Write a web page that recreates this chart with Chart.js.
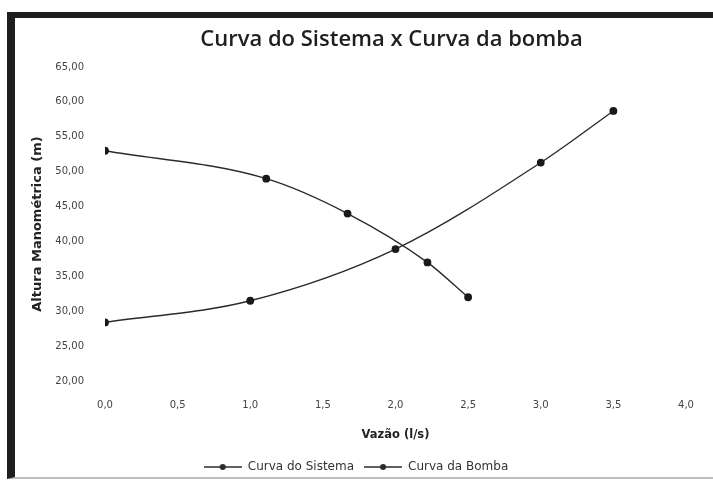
<!DOCTYPE html>
<html>
<head>
<meta charset="utf-8">
<script src="https://cdn.jsdelivr.net/npm/chart.js@4/dist/chart.umd.min.js"></script>
<style>
  html, body { margin: 0; padding: 0; background: #fff; }
  #wrap { position: relative; width: 713px; height: 483px; overflow: hidden; background: #fff; }
  #frame { position: absolute; left: 7px; top: 12px; width: 715px; height: 467px;
           border-left: 8px solid #1e1e1e; border-top: 6px solid #1e1e1e; border-bottom: 2px solid #bdbdbd; box-sizing: border-box; }
  canvas { position: absolute; left: 0; top: 0; }
</style>
</head>
<body>
<div id="wrap">
  <div id="frame"></div>
  <canvas id="c" width="713" height="483"></canvas>
</div>
<script>
const chartTitle = 'Curva do Sistema x Curva da bomba';
const xTitle = 'Vazão (l/s)';
const yTitle = 'Altura Manométrica (m)';
const seriesNames = ['Curva do Sistema', 'Curva da Bomba'];

const sistemaX = [0, 1.11, 1.67, 2.22, 2.5];
const sistemaY = [53.0, 49.0, 44.0, 37.0, 32.0];
const bombaX = [0, 1.0, 2.0, 3.0, 3.5];
const bombaY = [28.4, 31.5, 38.9, 51.3, 58.7];

const xTickLabels = ['0,0', '0,5', '1,0', '1,5', '2,0', '2,5', '3,0', '3,5', '4,0'];
const yTickLabels = ['20,00', '25,00', '30,00', '35,00', '40,00', '45,00', '50,00', '55,00', '60,00', '65,00'];

const lineColor = '#2b2b2b';

function toPoints(xs, ys) { return xs.map((x, i) => ({ x: x, y: ys[i] })); }

// legend marker: line with a dot
const legendIcon = document.createElement('canvas');
legendIcon.width = 38; legendIcon.height = 10;
(function () {
  const g = legendIcon.getContext('2d');
  g.strokeStyle = lineColor; g.lineWidth = 1.5;
  g.beginPath(); g.moveTo(0, 5); g.lineTo(38, 5); g.stroke();
  g.fillStyle = lineColor;
  g.beginPath(); g.arc(19, 5, 3, 0, Math.PI * 2); g.fill();
})();

const ds = (label, pts) => ({
  label: label,
  data: pts,
  showLine: true,
  borderColor: lineColor,
  backgroundColor: lineColor,
  borderWidth: 1.4,
  pointRadius: 3.2,
  pointBackgroundColor: '#1a1a1a',
  pointBorderColor: '#1a1a1a',
  cubicInterpolationMode: 'monotone',
  fill: false
});

const titlePlugin = {
  id: 'centeredTitle',
  afterDraw(chart) {
    const ca = chart.chartArea;
    const ctx = chart.ctx;
    ctx.save();
    ctx.fillStyle = '#1e1e1e';
    ctx.font = '600 22px "Open Sans"';
    ctx.textAlign = 'center';
    ctx.textBaseline = 'middle';
    ctx.fillText(chartTitle, (ca.left + ca.right) / 2 - 4, 40);
    ctx.restore();
  }
};

new Chart(document.getElementById('c'), {
  type: 'scatter',
  data: {
    datasets: [
      ds(seriesNames[0], toPoints(sistemaX, sistemaY)),
      ds(seriesNames[1], toPoints(bombaX, bombaY))
    ]
  },
  options: {
    responsive: false,
    animation: false,
    layout: { padding: { left: 26, right: 27, top: 67, bottom: 0 } },
    plugins: {
      title: { display: false },
      legend: {
        position: 'bottom',
        labels: {
          color: '#333',
          font: { family: 'DejaVu Sans', size: 12 },
          usePointStyle: true,
          pointStyleWidth: 38,
          padding: 10,
          generateLabels: (chart) => chart.data.datasets.map((d, i) => ({
            text: d.label, pointStyle: legendIcon, datasetIndex: i,
            fillStyle: lineColor, strokeStyle: lineColor, fontColor: '#333', hidden: false, lineWidth: 0
          }))
        }
      },
      tooltip: { enabled: false }
    },
    scales: {
      x: {
        type: 'linear',
        min: 0, max: 4,
        afterBuildTicks: (axis) => { axis.ticks = xTickLabels.map((_, i) => ({ value: i * 0.5 })); },
        ticks: {
          color: '#444',
          font: { family: 'DejaVu Sans', size: 10 },
          padding: 18,
          callback: (v, i) => xTickLabels[i]
        },
        grid: { display: false, drawTicks: false },
        border: { display: false },
        title: { display: true, text: xTitle, color: '#222', font: { family: 'DejaVu Sans', size: 11.5, weight: 'bold' }, padding: { top: 12, bottom: 9 } },
        afterFit: (axis) => { axis.height = 70; }
      },
      y: {
        type: 'linear',
        min: 20, max: 65,
        afterBuildTicks: (axis) => { axis.ticks = yTickLabels.map((_, i) => ({ value: 20 + i * 5 })); },
        ticks: {
          color: '#444',
          font: { family: 'DejaVu Sans', size: 10 },
          padding: 21,
          callback: (v, i) => yTickLabels[i]
        },
        grid: { display: false, drawTicks: false },
        border: { display: false },
        title: { display: true, text: yTitle, color: '#222', font: { family: 'DejaVu Sans', size: 13, weight: 'bold' }, padding: { top: 4, bottom: 4 } },
        afterFit: (axis) => { axis.width = 79; }
      }
    }
  },
  plugins: [titlePlugin]
});
</script>
</body>
</html>
